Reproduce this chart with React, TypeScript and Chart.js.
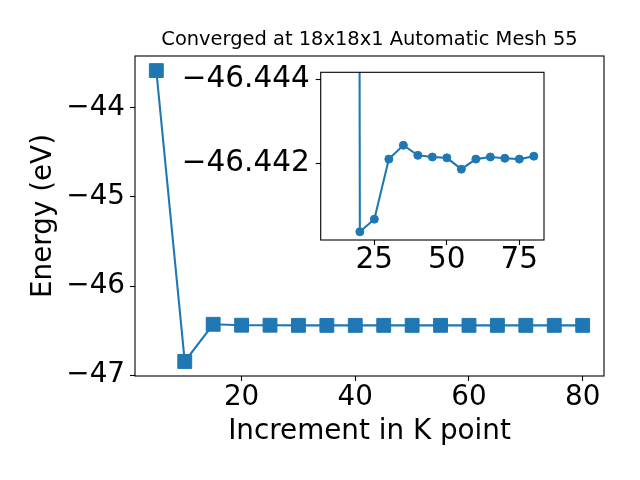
import React, { useEffect, useRef } from "react";
import { Chart, registerables } from "chart.js";

Chart.register(...registerables);

// ---- data ----
const kPoints = [5, 10, 15, 20, 25, 30, 35, 40, 45, 50, 55, 60, 65, 70, 75, 80];
const energies = [
  -43.58, -46.848, -46.43, -46.44037, -46.44067, -46.4421, -46.44243, -46.44219,
  -46.44215, -46.44213, -46.44186, -46.4421, -46.44215, -46.44212, -46.4421, -46.44217,
];
// inset uses the 10 k-point value followed by the converged region (20..80)
const insetK = [kPoints[1], ...kPoints.slice(3)];
const insetE = [energies[1], ...energies.slice(3)];

const mainXTicks = [20, 40, 60, 80];
const mainYTicks = [-47, -46, -45, -44];
const insetXTicks = [25, 50, 75];
const insetYTicks = [-46.444, -46.442];

const titleText = "Converged at 18x18x1 Automatic Mesh 55";
const xLabel = "Increment in K point";
const yLabel = "Energy (eV)";

const FONT = "'DejaVu Sans', sans-serif";
const BLUE = "#1f77b4";
const BIG = 27.8;
const INSET_FONT = 29.5;

const minus = (s: string) => s.replace("-", "\u2212");

const framePlugin = {
  id: "frame",
  beforeDraw(chart: any) {
    const a = chart.chartArea;
    const ctx = chart.ctx;
    ctx.save();
    ctx.fillStyle = "#fff";
    ctx.fillRect(a.left, a.top, a.right - a.left, a.bottom - a.top);
    ctx.restore();
  },
  afterDraw(chart: any) {
    const a = chart.chartArea;
    const ctx = chart.ctx;
    ctx.save();
    ctx.strokeStyle = "#000";
    ctx.lineWidth = 1.1;
    ctx.strokeRect(a.left, a.top, a.right - a.left, a.bottom - a.top);
    ctx.restore();
  },
};

const tickGrid = {
  display: true,
  drawOnChartArea: false,
  drawTicks: true,
  tickLength: 5,
  color: "#000",
  tickWidth: 1.1,
};

export default function App() {
  const mainRef = useRef<HTMLCanvasElement>(null);
  const insetRef = useRef<HTMLCanvasElement>(null);

  useEffect(() => {
    const main = new Chart(mainRef.current!, {
      type: "line",
      data: {
        datasets: [
          {
            data: kPoints.map((k, i) => ({ x: k, y: energies[i] })),
            borderColor: BLUE,
            backgroundColor: BLUE,
            borderWidth: 2.08,
            pointStyle: "rect",
            pointRadius: 9.8,
            pointBorderWidth: 1,
            pointBackgroundColor: BLUE,
            pointBorderColor: BLUE,
            tension: 0,
          },
        ],
      },
      options: {
        responsive: false,
        animation: false,
        devicePixelRatio: 1,
        layout: { padding: { left: 0, right: 36, top: 0, bottom: 0 } },
        plugins: {
          legend: { display: false },
          tooltip: { enabled: false },
          title: {
            display: true,
            fullSize: false,
            text: titleText,
            color: "#000",
            font: { family: FONT, size: 19.44, weight: "normal" },
            padding: { top: 28.7, bottom: 3.97 },
          },
        },
        scales: {
          x: {
            type: "linear",
            min: 1.25,
            max: 83.75,
            afterBuildTicks: (s: any) => {
              s.ticks = mainXTicks.map((v) => ({ value: v }));
            },
            afterFit: (s: any) => {
              s.height = 104;
            },
            grid: tickGrid,
            border: { display: false },
            ticks: {
              color: "#000",
              font: { family: FONT, size: BIG },
              padding: 0,
              maxRotation: 0,
              autoSkip: false,
              callback: (v: any) => minus(String(v)),
            },
            title: {
              display: true,
              text: xLabel,
              color: "#000",
              font: { family: FONT, size: BIG },
              padding: { top: 0, bottom: 32 },
            },
          },
          y: {
            type: "linear",
            min: -47.011,
            max: -43.416,
            afterBuildTicks: (s: any) => {
              s.ticks = mainYTicks.map((v) => ({ value: v }));
            },
            afterFit: (s: any) => {
              s.width = 135;
            },
            grid: tickGrid,
            border: { display: false },
            ticks: {
              color: "#000",
              font: { family: FONT, size: BIG },
              padding: 5,
              autoSkip: false,
              callback: (v: any) => minus(String(v)),
            },
            title: {
              display: true,
              text: yLabel,
              color: "#000",
              font: { family: FONT, size: BIG },
              padding: { top: 27, bottom: 0 },
            },
          },
        },
      },
      plugins: [framePlugin],
    } as any);

    const inset = new Chart(insetRef.current!, {
      type: "line",
      data: {
        datasets: [
          {
            data: insetK.map((k, i) => ({ x: k, y: insetE[i] })),
            borderColor: BLUE,
            backgroundColor: BLUE,
            borderWidth: 2.08,
            pointStyle: "circle",
            pointRadius: 4,
            pointBorderWidth: 1,
            pointBackgroundColor: BLUE,
            pointBorderColor: BLUE,
            tension: 0,
          },
        ],
      },
      options: {
        responsive: false,
        animation: false,
        devicePixelRatio: 1,
        layout: { padding: { left: 0, right: 16, top: 32.3, bottom: 0 } },
        plugins: {
          legend: { display: false },
          tooltip: { enabled: false },
          title: { display: false },
        },
        scales: {
          x: {
            type: "linear",
            min: 6.5,
            max: 83.5,
            afterBuildTicks: (s: any) => {
              s.ticks = insetXTicks.map((v) => ({ value: v }));
            },
            afterFit: (s: any) => {
              s.height = 50;
            },
            grid: tickGrid,
            border: { display: false },
            ticks: {
              color: "#000",
              font: { family: FONT, size: INSET_FONT },
              padding: -2,
              maxRotation: 0,
              autoSkip: false,
              callback: (v: any) => minus(String(v)),
            },
          },
          y: {
            type: "linear",
            reverse: true,
            min: -46.444167,
            max: -46.440174,
            afterBuildTicks: (s: any) => {
              s.ticks = insetYTicks.map((v) => ({ value: v }));
            },
            afterFit: (s: any) => {
              s.width = 170.7;
            },
            grid: tickGrid,
            border: { display: false },
            ticks: {
              color: "#000",
              font: { family: FONT, size: INSET_FONT },
              padding: 6,
              autoSkip: false,
              callback: (v: any) => minus(Number(v).toFixed(3)),
            },
          },
        },
      },
      plugins: [framePlugin],
    } as any);

    return () => {
      main.destroy();
      inset.destroy();
    };
  }, []);

  return (
    <div
      style={{
        position: "fixed",
        left: 0,
        top: 0,
        width: 640,
        height: 480,
        background: "#fff",
      }}
    >
      <canvas
        ref={mainRef}
        width={640}
        height={480}
        style={{ position: "absolute", left: 0, top: 0 }}
      />
      <canvas
        ref={insetRef}
        width={410}
        height={250}
        style={{ position: "absolute", left: 150, top: 40 }}
      />
    </div>
  );
}
